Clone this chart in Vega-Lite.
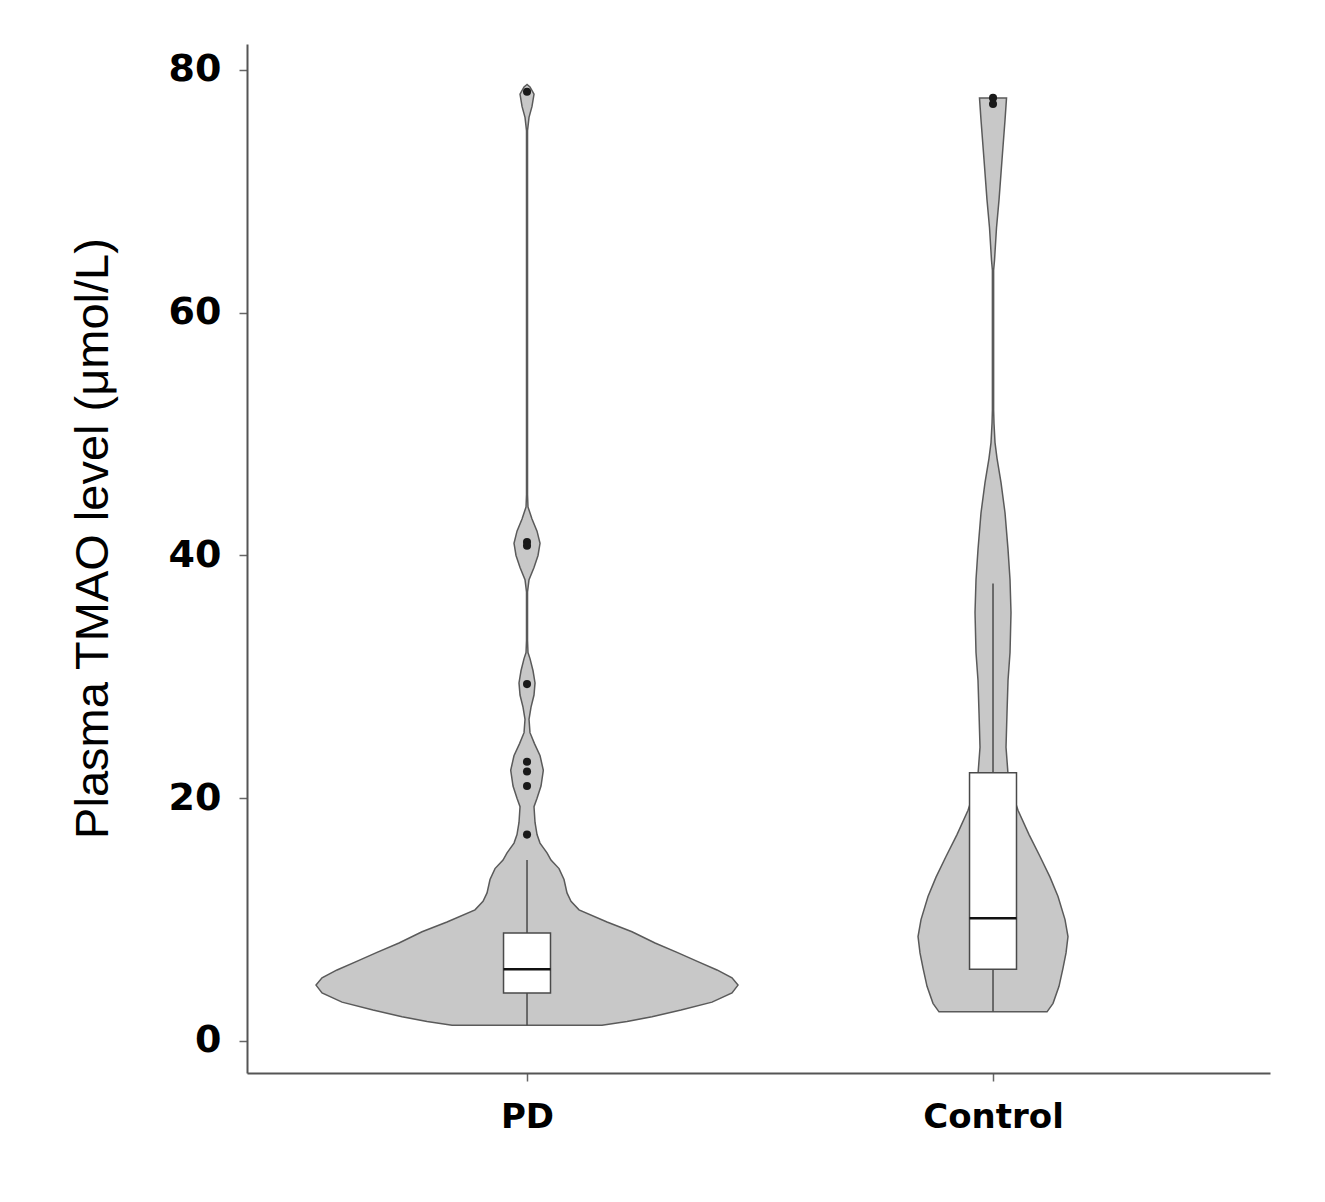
{
  "$schema": "https://vega.github.io/schema/vega-lite/v6.json",
  "autosize": "none",
  "padding": {"left": 247, "top": 44, "right": 55, "bottom": 129},
  "width": 1023,
  "height": 1029,
  "background": "white",
  "config": {"view": {"stroke": null}, "font": "Liberation Sans"},
  "datasets": {
    "violin": [
      {"group": "PD", "value": 1.3, "lo": 0.8391, "hi": 1.1609},
      {"group": "PD", "value": 1.6, "lo": 0.7854, "hi": 1.2146},
      {"group": "PD", "value": 2.0, "lo": 0.7318, "hi": 1.2682},
      {"group": "PD", "value": 2.55, "lo": 0.6695, "hi": 1.3305},
      {"group": "PD", "value": 3.2, "lo": 0.6030, "hi": 1.3970},
      {"group": "PD", "value": 3.95, "lo": 0.5601, "hi": 1.4399},
      {"group": "PD", "value": 4.6, "lo": 0.5472, "hi": 1.4528},
      {"group": "PD", "value": 5.2, "lo": 0.5601, "hi": 1.4399},
      {"group": "PD", "value": 5.85, "lo": 0.5923, "hi": 1.4077},
      {"group": "PD", "value": 6.5, "lo": 0.6309, "hi": 1.3691},
      {"group": "PD", "value": 7.3, "lo": 0.6781, "hi": 1.3219},
      {"group": "PD", "value": 8.07, "lo": 0.7253, "hi": 1.2747},
      {"group": "PD", "value": 9.0, "lo": 0.7747, "hi": 1.2253},
      {"group": "PD", "value": 9.8, "lo": 0.8283, "hi": 1.1717},
      {"group": "PD", "value": 10.8, "lo": 0.8884, "hi": 1.1116},
      {"group": "PD", "value": 11.5, "lo": 0.9056, "hi": 1.0944},
      {"group": "PD", "value": 12.2, "lo": 0.9142, "hi": 1.0858},
      {"group": "PD", "value": 13.3, "lo": 0.9206, "hi": 1.0794},
      {"group": "PD", "value": 14.2, "lo": 0.9313, "hi": 1.0687},
      {"group": "PD", "value": 14.9, "lo": 0.9485, "hi": 1.0515},
      {"group": "PD", "value": 15.5, "lo": 0.9571, "hi": 1.0429},
      {"group": "PD", "value": 16.3, "lo": 0.9721, "hi": 1.0279},
      {"group": "PD", "value": 17.0, "lo": 0.9785, "hi": 1.0215},
      {"group": "PD", "value": 18.0, "lo": 0.9828, "hi": 1.0172},
      {"group": "PD", "value": 19.3, "lo": 0.9850, "hi": 1.0150},
      {"group": "PD", "value": 20.0, "lo": 0.9785, "hi": 1.0215},
      {"group": "PD", "value": 21.0, "lo": 0.9700, "hi": 1.0300},
      {"group": "PD", "value": 22.3, "lo": 0.9650, "hi": 1.0350},
      {"group": "PD", "value": 23.5, "lo": 0.9720, "hi": 1.0280},
      {"group": "PD", "value": 24.5, "lo": 0.9840, "hi": 1.0160},
      {"group": "PD", "value": 25.4, "lo": 0.9936, "hi": 1.0064},
      {"group": "PD", "value": 26.5, "lo": 0.9957, "hi": 1.0043},
      {"group": "PD", "value": 27.5, "lo": 0.9914, "hi": 1.0086},
      {"group": "PD", "value": 28.5, "lo": 0.9850, "hi": 1.0150},
      {"group": "PD", "value": 29.5, "lo": 0.9828, "hi": 1.0172},
      {"group": "PD", "value": 30.5, "lo": 0.9871, "hi": 1.0129},
      {"group": "PD", "value": 31.5, "lo": 0.9936, "hi": 1.0064},
      {"group": "PD", "value": 32.0, "lo": 0.9979, "hi": 1.0021},
      {"group": "PD", "value": 33.0, "lo": 0.9989, "hi": 1.0011},
      {"group": "PD", "value": 37.0, "lo": 0.9989, "hi": 1.0011},
      {"group": "PD", "value": 38.0, "lo": 0.9957, "hi": 1.0043},
      {"group": "PD", "value": 39.0, "lo": 0.9850, "hi": 1.0150},
      {"group": "PD", "value": 40.0, "lo": 0.9764, "hi": 1.0236},
      {"group": "PD", "value": 41.0, "lo": 0.9721, "hi": 1.0279},
      {"group": "PD", "value": 42.0, "lo": 0.9785, "hi": 1.0215},
      {"group": "PD", "value": 43.0, "lo": 0.9893, "hi": 1.0107},
      {"group": "PD", "value": 44.0, "lo": 0.9979, "hi": 1.0021},
      {"group": "PD", "value": 45.0, "lo": 0.9989, "hi": 1.0011},
      {"group": "PD", "value": 75.0, "lo": 0.9989, "hi": 1.0011},
      {"group": "PD", "value": 76.1, "lo": 0.9957, "hi": 1.0043},
      {"group": "PD", "value": 77.0, "lo": 0.9893, "hi": 1.0107},
      {"group": "PD", "value": 78.0, "lo": 0.9850, "hi": 1.0150},
      {"group": "PD", "value": 78.6, "lo": 0.9936, "hi": 1.0064},
      {"group": "PD", "value": 78.8, "lo": 1.0, "hi": 1.0},
      {"group": "Control", "value": 2.4, "lo": 1.8841, "hi": 2.1159},
      {"group": "Control", "value": 3.1, "lo": 1.8712, "hi": 2.1288},
      {"group": "Control", "value": 4.5, "lo": 1.8584, "hi": 2.1416},
      {"group": "Control", "value": 6.0, "lo": 1.8498, "hi": 2.1502},
      {"group": "Control", "value": 7.25, "lo": 1.8433, "hi": 2.1567},
      {"group": "Control", "value": 8.6, "lo": 1.8391, "hi": 2.1609},
      {"group": "Control", "value": 10.0, "lo": 1.8455, "hi": 2.1545},
      {"group": "Control", "value": 11.9, "lo": 1.8605, "hi": 2.1395},
      {"group": "Control", "value": 13.5, "lo": 1.8777, "hi": 2.1223},
      {"group": "Control", "value": 15.2, "lo": 1.8991, "hi": 2.1009},
      {"group": "Control", "value": 17.0, "lo": 1.9227, "hi": 2.0773},
      {"group": "Control", "value": 19.0, "lo": 1.9464, "hi": 2.0536},
      {"group": "Control", "value": 20.5, "lo": 1.9592, "hi": 2.0408},
      {"group": "Control", "value": 22.0, "lo": 1.9678, "hi": 2.0322},
      {"group": "Control", "value": 24.2, "lo": 1.9721, "hi": 2.0279},
      {"group": "Control", "value": 27.0, "lo": 1.9700, "hi": 2.0300},
      {"group": "Control", "value": 29.7, "lo": 1.9678, "hi": 2.0322},
      {"group": "Control", "value": 32.0, "lo": 1.9635, "hi": 2.0365},
      {"group": "Control", "value": 35.3, "lo": 1.9614, "hi": 2.0386},
      {"group": "Control", "value": 38.0, "lo": 1.9635, "hi": 2.0365},
      {"group": "Control", "value": 40.5, "lo": 1.9678, "hi": 2.0322},
      {"group": "Control", "value": 43.5, "lo": 1.9742, "hi": 2.0258},
      {"group": "Control", "value": 46.0, "lo": 1.9828, "hi": 2.0172},
      {"group": "Control", "value": 48.0, "lo": 1.9914, "hi": 2.0086},
      {"group": "Control", "value": 49.3, "lo": 1.9957, "hi": 2.0043},
      {"group": "Control", "value": 50.9, "lo": 1.9979, "hi": 2.0021},
      {"group": "Control", "value": 52.0, "lo": 1.9987, "hi": 2.0013},
      {"group": "Control", "value": 63.5, "lo": 1.9987, "hi": 2.0013},
      {"group": "Control", "value": 64.3, "lo": 1.9968, "hi": 2.0032},
      {"group": "Control", "value": 67.0, "lo": 1.9925, "hi": 2.0075},
      {"group": "Control", "value": 69.3, "lo": 1.9871, "hi": 2.0129},
      {"group": "Control", "value": 72.6, "lo": 1.9807, "hi": 2.0193},
      {"group": "Control", "value": 75.9, "lo": 1.9742, "hi": 2.0258},
      {"group": "Control", "value": 77.7, "lo": 1.9710, "hi": 2.0290}
    ],
    "box": [
      {"group": "PD", "center": 1, "lo": 0.9496, "hi": 1.0504, "q1": 3.95, "median": 5.9, "q3": 8.9, "wmin": 1.3, "wmax": 14.9},
      {"group": "Control", "center": 2, "lo": 1.9496, "hi": 2.0504, "q1": 5.9, "median": 10.1, "q3": 22.1, "wmin": 2.4, "wmax": 37.7}
    ],
    "points": [
      {"group": "PD", "center": 1, "value": 78.2},
      {"group": "PD", "center": 1, "value": 41.1},
      {"group": "PD", "center": 1, "value": 40.8},
      {"group": "PD", "center": 1, "value": 29.4},
      {"group": "PD", "center": 1, "value": 23.0},
      {"group": "PD", "center": 1, "value": 22.2},
      {"group": "PD", "center": 1, "value": 21.0},
      {"group": "PD", "center": 1, "value": 17.0},
      {"group": "Control", "center": 2, "value": 77.7},
      {"group": "Control", "center": 2, "value": 77.2}
    ]
  },
  "layer": [
    {
      "data": {"name": "violin"},
      "mark": {"type": "area", "orient": "horizontal", "fill": "#c8c8c8", "stroke": "#5a5a5a", "strokeWidth": 1.5},
      "encoding": {
        "y": {
          "field": "value", "type": "quantitative",
          "scale": {"domain": [-2.64, 82.14], "nice": false, "zero": false},
          "axis": {
            "values": [0, 20, 40, 60, 80],
            "title": "Plasma TMAO level (μmol/L)",
            "titleFontSize": 47, "titleFontWeight": "normal", "titleColor": "#000",
            "titleFont": "Liberation Sans", "titlePadding": 51, "titleY": 494,
            "labelFontSize": 38, "labelFontWeight": "bold", "labelColor": "#000",
            "labelFont": "DejaVu Sans", "labelPadding": 18,
            "tickSize": 8, "tickColor": "#666", "tickWidth": 1.5,
            "domainColor": "#555", "domainWidth": 2, "grid": false
          }
        },
        "x": {
          "field": "lo", "type": "quantitative",
          "scale": {"domain": [0.3991, 2.5944], "nice": false, "zero": false},
          "axis": {
            "values": [1, 2],
            "labelExpr": "datum.value == 1 ? 'PD' : 'Control'",
            "title": null,
            "labelFontSize": 34, "labelFontWeight": "bold", "labelColor": "#000",
            "labelFont": "DejaVu Sans", "labelPadding": 19,
            "tickSize": 8, "tickColor": "#666", "tickWidth": 1.5,
            "domainColor": "#555", "domainWidth": 2, "grid": false
          }
        },
        "x2": {"field": "hi"},
        "detail": {"field": "group"}
      }
    },
    {
      "data": {"name": "box"},
      "mark": {"type": "rule", "stroke": "#4a4a4a", "strokeWidth": 1.5},
      "encoding": {
        "x": {"field": "center", "type": "quantitative"},
        "y": {"field": "wmin", "type": "quantitative"},
        "y2": {"field": "wmax"}
      }
    },
    {
      "data": {"name": "box"},
      "mark": {"type": "rect", "fill": "white", "stroke": "#4a4a4a", "strokeWidth": 1.5},
      "encoding": {
        "x": {"field": "lo", "type": "quantitative"},
        "x2": {"field": "hi"},
        "y": {"field": "q1", "type": "quantitative"},
        "y2": {"field": "q3"}
      }
    },
    {
      "data": {"name": "box"},
      "mark": {"type": "rule", "stroke": "#111", "strokeWidth": 2.5},
      "encoding": {
        "x": {"field": "lo", "type": "quantitative"},
        "x2": {"field": "hi"},
        "y": {"field": "median", "type": "quantitative"}
      }
    },
    {
      "data": {"name": "points"},
      "mark": {"type": "circle", "size": 65, "color": "#1a1a1a", "opacity": 1},
      "encoding": {
        "x": {"field": "center", "type": "quantitative"},
        "y": {"field": "value", "type": "quantitative"}
      }
    }
  ]
}
